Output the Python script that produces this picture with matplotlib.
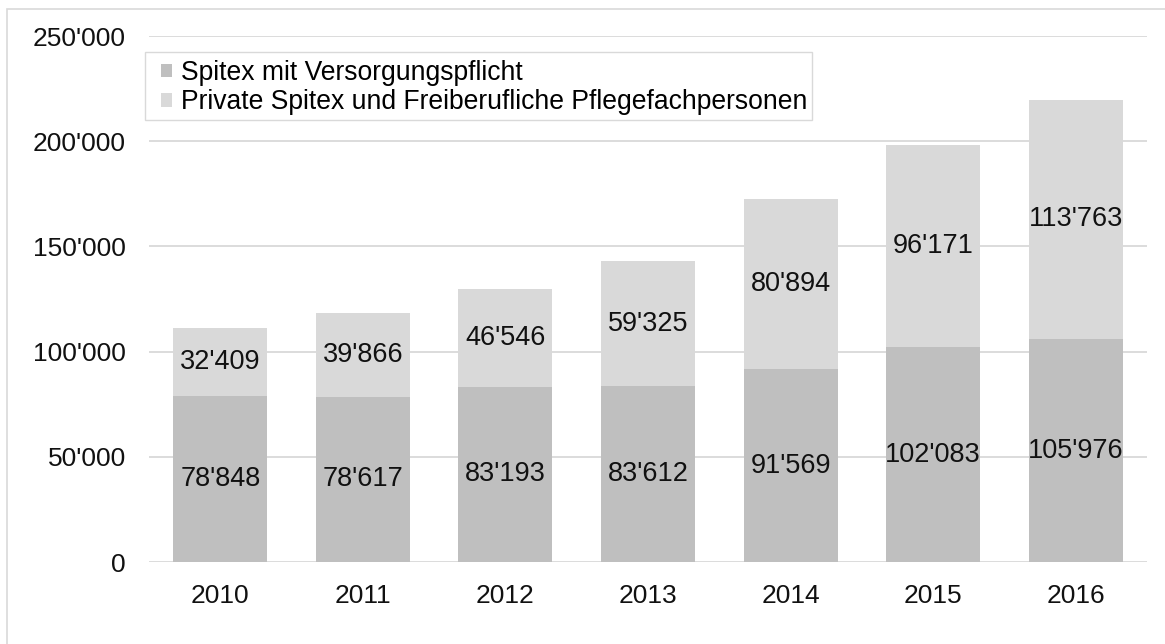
import matplotlib
matplotlib.use("Agg")
import matplotlib.pyplot as plt
from matplotlib.patches import Patch, Rectangle
from matplotlib.ticker import FuncFormatter

years = ["2010", "2011", "2012", "2013", "2014", "2015", "2016"]
spitex_vp = [78848, 78617, 83193, 83612, 91569, 102083, 105976]
private = [32409, 39866, 46546, 59325, 80894, 96171, 113763]
series_labels = ["Spitex mit Versorgungspflicht",
                 "Private Spitex und Freiberufliche Pflegefachpersonen"]
yticks = [0, 50000, 100000, 150000, 200000, 250000]

plt.rcParams['font.family'] = ['Liberation Sans', 'DejaVu Sans']

W, H = 1165, 644
fig = plt.figure(figsize=(W / 100, H / 100), dpi=100)
ax = fig.add_axes([149 / W, (H - 562) / H, (1147 - 149) / W, (562 - 36) / H])

c_dark = "#BFBFBF"
c_light = "#D9D9D9"
x = list(range(len(years)))
width = 0.66
ax.bar(x, spitex_vp, width=width, color=c_dark, zorder=2)
ax.bar(x, private, width=width, bottom=spitex_vp, color=c_light, zorder=2)

fs = 19.5
for i in x:
    ax.text(i, spitex_vp[i] / 2, f"{spitex_vp[i]:,}".replace(",", "'"),
            ha="center", va="center", fontsize=fs, color="#111111", zorder=3)
    ax.text(i, spitex_vp[i] + private[i] / 2, f"{private[i]:,}".replace(",", "'"),
            ha="center", va="center", fontsize=fs, color="#111111", zorder=3)

ax.set_xlim(-0.5, len(years) - 0.5)
ax.set_ylim(0, 250000)
ax.set_yticks(yticks)
ax.yaxis.set_major_formatter(FuncFormatter(lambda v, p: f"{int(v):,}".replace(",", "'")))
ax.set_xticks(x)
ax.set_xticklabels(years)
ax.tick_params(axis="both", length=0, labelsize=19, colors="#111111")
ax.tick_params(axis="y", pad=16.5)
ax.tick_params(axis="x", pad=16)
ax.grid(axis="y", color="#D9D9D9", linewidth=1.3, zorder=0)
ax.set_axisbelow(True)
for s in ax.spines.values():
    s.set_visible(False)

handles = [Patch(facecolor=c_dark, edgecolor="none"),
           Patch(facecolor=c_light, edgecolor="none")]
leg = fig.legend(handles, series_labels, loc="upper left",
                 bbox_to_anchor=(161 / W, 1 - 60 / H), borderaxespad=0,
                 fontsize=19.1, frameon=False,
                 handlelength=0.42, handleheight=0.42,
                 handletextpad=0.32, borderpad=0, labelspacing=0.13)
# legend frame
fig.patches.append(Rectangle((145 / W, 1 - 120 / H), (812 - 145) / W, 68 / H,
                             transform=fig.transFigure, fill=False,
                             edgecolor="#D9D9D9", linewidth=1.0))

fig.patches.append(Rectangle((7 / W, -0.5), 2, 1.5 - 9 / H, transform=fig.transFigure,
                             fill=False, edgecolor="#D9D9D9", linewidth=1.2))

fig.savefig("out.png", dpi=100, facecolor="white")
